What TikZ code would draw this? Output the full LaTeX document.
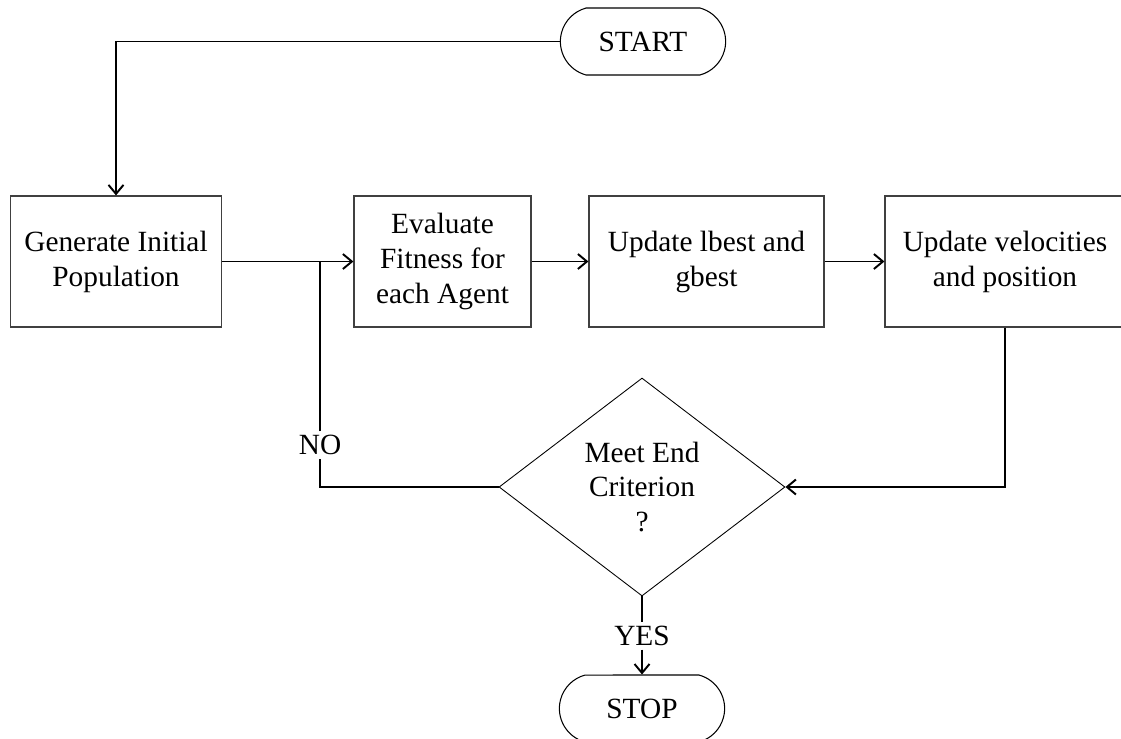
\documentclass[tikz,border=0pt]{standalone}
\usepackage{fontspec}
\setmainfont{Liberation Serif}
\usetikzlibrary{shapes.misc}
\usetikzlibrary{shapes.geometric}
\usetikzlibrary{arrows.meta}

\tikzset{
  every node/.style={font=\fontsize{16.7}{19.9}\selectfont},
  stepbox/.style={draw=black!75, line width=0.7pt, minimum height=2.62cm, inner sep=0pt, align=center},
  termbox/.style={rounded rectangle, rounded rectangle arc length=150, draw, line width=0.6pt, minimum width=3.54cm, minimum height=1.34cm},
  decision/.style={diamond, draw, line width=0.5pt, minimum width=5.72cm, minimum height=4.36cm, inner sep=0pt, align=center},
  answer/.style={inner sep=2pt},
  flow/.style={line width=1.1pt, -{Straight Barb[length=1.8mm,width=3mm]}},
  link/.style={line width=1.1pt}
}

\begin{document}
\begin{tikzpicture}[x=0.02cm, y=-0.02cm]
  \clip (0,0) rectangle (1121,738);

  \node [termbox] (start) at (643,41.5) {START};

  \node [stepbox, minimum width=4.22cm] (gen) at (116,261.5) {Generate Initial\\Population};
  \node [stepbox, minimum width=3.54cm] (eval) at (442.5,261.5) {Evaluate\\Fitness for\\each Agent};
  \node [stepbox, minimum width=4.7cm] (best) at (706.5,261.5) {Update lbest and\\gbest};
  \node [stepbox, minimum width=4.8cm] (vel) at (1005,261.5) {Update velocities\\and position};

  \node [decision] (crit) at (642,487) {Meet End\\Criterion\\?};

  \node [termbox] (stop) at (642,708.5) {STOP};

  \node [answer] (no) at (320,445) {NO};
  \node [answer] (yes) at (642,636) {YES};
  \coordinate (nojoin) at (320,261.5);

  \draw [flow] (start.west) -| (gen.north);
  \draw [flow] (gen.east) -- (eval.west);
  \draw [flow] (eval.east) -- (best.west);
  \draw [flow] (best.east) -- (vel.west);
  \draw [flow] (vel.south) |- (crit.east);
  \draw [link] (crit.west) -| (no.south);
  \draw [link] (no.north) -- (nojoin);
  \draw [link] (crit.south) -- (yes.north);
  \draw [flow] (yes.south) -- (stop.north);

\end{tikzpicture}
\end{document}
